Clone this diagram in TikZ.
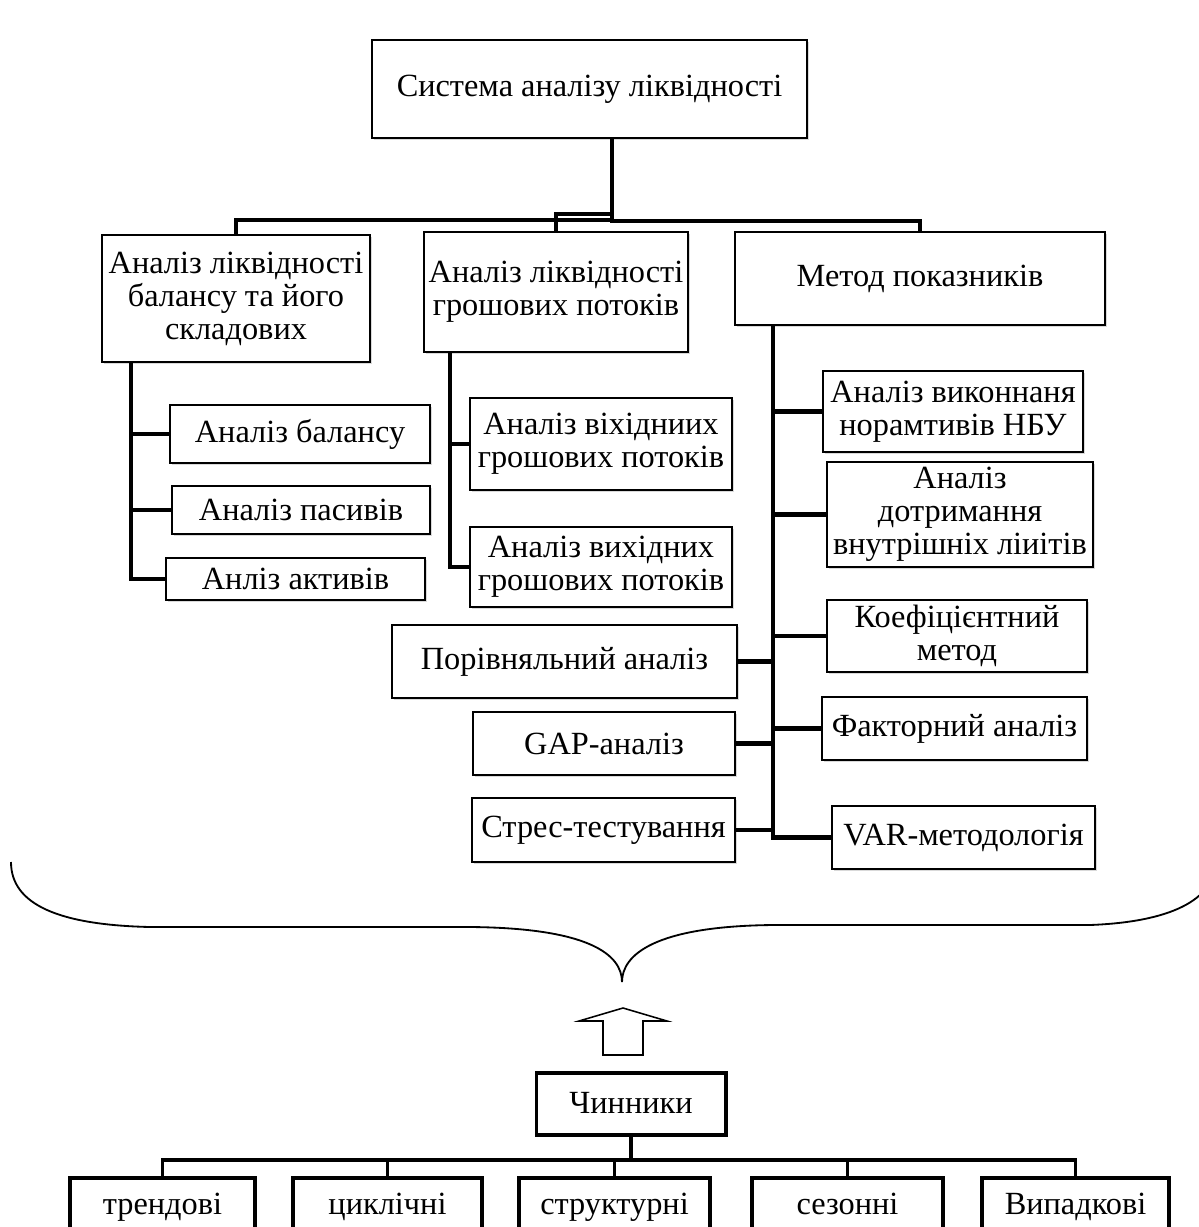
\documentclass[tikz,border=0pt]{standalone}
\usepackage{fontspec}
\setmainfont{Liberation Serif}
\usetikzlibrary{shadows}
\tikzset{
  blok/.style={draw,line width=1.2pt,fill=white,align=center,inner sep=1pt,
    font=\fontsize{23}{23.5}\selectfont,
    drop shadow={shadow xshift=1.2pt,shadow yshift=-1.2pt,opacity=0.3}},
  chblok/.style={draw,line width=2.8pt,fill=white,align=center,inner sep=1pt,
    text height=18pt,text depth=4pt,
    font=\fontsize{23}{23.5}\selectfont},
  zv/.style={line width=3.5pt},
  zvb/.style={line width=2.8pt}
}

\begin{document}
\begin{tikzpicture}[x=0.025cm,y=-0.025cm]
        \useasboundingbox (0,0) rectangle (1198,1227);

        \coordinate (c0) at (589.5,89);
        \coordinate (c1) at (236,298.5);
        \coordinate (c2) at (556,292);
        \coordinate (c3) at (920,278.5);

        \coordinate (b1) at (300,434);
        \coordinate (b2) at (301,510);
        \coordinate (b3) at (295.5,579);

        \coordinate (p1) at (601,444);
        \coordinate (p2) at (601,567);

        \coordinate (k1) at (953,411.5);
        \coordinate (k2) at (960,514.5);
        \coordinate (k3) at (957,636);
        \coordinate (k4) at (954.5,728.5);
        \coordinate (k5) at (963.5,837.5);
        \coordinate (m1) at (564.5,661.5);
        \coordinate (m2) at (604,743.5);
        \coordinate (m3) at (603.5,830);

        \node[blok,minimum width=10.875cm,minimum height=2.45cm] (sys) at (c0) {Система аналізу ліквідності};
        \node[blok,minimum width=6.7cm,minimum height=3.175cm] (bal) at (c1) {Аналіз ліквідності\\балансу та його\\складових};
        \node[blok,minimum width=6.6cm,minimum height=3cm] (pot) at (c2) {Аналіз ліквідності\\грошових потоків};
        \node[blok,minimum width=9.25cm,minimum height=2.325cm] (pok) at (c3) {Метод показників};

        \node[blok,minimum width=6.5cm,minimum height=1.45cm] (bal1) at (b1) {Аналіз балансу};
        \node[blok,minimum width=6.45cm,minimum height=1.2cm] (bal2) at (b2) {Аналіз пасивів};
        \node[blok,minimum width=6.475cm,minimum height=1.05cm] (bal3) at (b3) {Анліз активів};

        \node[blok,minimum width=6.55cm,minimum height=2.3cm] (pot1) at (p1) {Аналіз віхідниих\\грошових потоків};
        \node[blok,minimum width=6.55cm,minimum height=2cm] (pot2) at (p2) {Аналіз вихідних\\грошових потоків};

        \node[blok,minimum width=6.5cm,minimum height=2.025cm] (pok1) at (k1) {Аналіз виконнаня\\норамтивів НБУ};
        \node[blok,minimum width=6.65cm,minimum height=2.625cm] (pok2) at (k2) {Аналіз\\дотримання\\внутрішніх ліиітів};
        \node[blok,minimum width=6.5cm,minimum height=1.8cm] (pok3) at (k3) {Коефіцієнтний\\метод};
        \node[blok,minimum width=6.625cm,minimum height=1.575cm] (pok4) at (k4) {Факторний аналіз};
        \node[blok,minimum width=6.575cm,minimum height=1.575cm] (pok5) at (k5) {VAR-методологія};
        \node[blok,minimum width=8.625cm,minimum height=1.825cm] (por) at (m1) {Порівняльний аналіз};
        \node[blok,minimum width=6.55cm,minimum height=1.575cm] (gap) at (m2) {GAP-аналіз};
        \node[blok,minimum width=6.575cm,minimum height=1.6cm] (stres) at (m3) {Стрес-тестування};

        \coordinate (t0) at (612,138);
        \coordinate (l0) at (131,362);
        \coordinate (s0) at (450,352);
        \coordinate (r0) at (773,325);

        \draw[zv] (t0) -- ++(0,82) -| (bal.north);
        \draw[zv] (t0) -- ++(0,76) -| (pot.north);
        \draw[zv] (t0) -- ++(0,83) -| (pok.north);

        \draw[zv] (l0) |- (bal3.west);
        \draw[zv] (l0 |- bal1.west) -- (bal1.west);
        \draw[zv] (l0 |- bal2.west) -- (bal2.west);

        \draw[zv] (s0) |- (pot2.west);
        \draw[zv] (s0 |- pot1.west) -- (pot1.west);

        \draw[zv] (r0) |- (pok5.west);
        \draw[zv] (r0 |- pok1.west) -- (pok1.west);
        \draw[zv] (r0 |- pok2.west) -- (pok2.west);
        \draw[zv] (r0 |- pok3.west) -- (pok3.west);
        \draw[zv] (r0 |- pok4.west) -- (pok4.west);
        \draw[zv] (r0 |- por.east) -- (por.east);
        \draw[zv] (r0 |- gap.east) -- (gap.east);
        \draw[zv] (r0 |- stres.east) -- (stres.east);

        \draw[line width=1.3pt] (11,862) .. controls (11,905) and (60,925) .. (150,927)
            -- (470,927) .. controls (590,928) and (622,955) .. (622,982)
            .. controls (622,955) and (654,926) .. (774,925)
            -- (1090,925) .. controls (1170,922) and (1215,900) .. (1215,862);

        \draw[line width=1.1pt,line join=miter] (603,1055) -- (603,1021) -- (579,1021) -- (623,1008)
            -- (667,1021) -- (643,1021) -- (643,1055) -- cycle;

        \coordinate (d0) at (631,1104);
        \coordinate (d1) at (162.5,1205);
        \coordinate (d2) at (387.5,1205);
        \coordinate (d3) at (614.5,1205);
        \coordinate (d4) at (847.5,1205);
        \coordinate (d5) at (1075.5,1205);

        \node[chblok,minimum width=4.725cm,minimum height=1.55cm] (chyn) at (d0) {Чинники};
        \node[chblok,minimum width=4.625cm,minimum height=1.35cm] (f1) at (d1) {трендові};
        \node[chblok,minimum width=4.725cm,minimum height=1.35cm] (f2) at (d2) {циклічні};
        \node[chblok,minimum width=4.775cm,minimum height=1.35cm] (f3) at (d3) {структурні};
        \node[chblok,minimum width=4.775cm,minimum height=1.35cm] (f4) at (d4) {сезонні};
        \node[chblok,minimum width=4.675cm,minimum height=1.35cm] (f5) at (d5) {Випадкові};

        \draw[zvb] (chyn.south) -- ++(0,23) -| (f1.north);
        \draw[zvb] (chyn.south) -- ++(0,23) -| (f2.north);
        \draw[zvb] (chyn.south) -- ++(0,23) -| (f3.north);
        \draw[zvb] (chyn.south) -- ++(0,23) -| (f4.north);
        \draw[zvb] (chyn.south) -- ++(0,23) -| (f5.north);
    \end{tikzpicture}
\end{document}
